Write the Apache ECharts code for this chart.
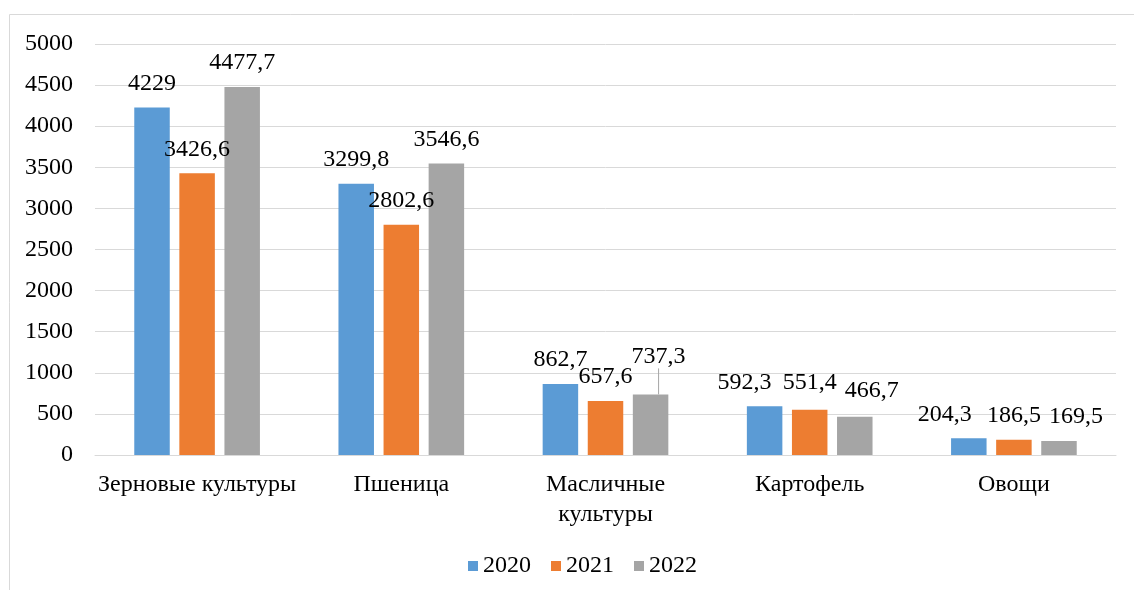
<!DOCTYPE html>
<html>
<head>
    <meta charset="utf-8">
    <title>Chart</title>
    <script src="https://cdn.jsdelivr.net/npm/echarts@6/dist/echarts.min.js"></script>
    <style>
        html, body { margin: 0; padding: 0; background: #fff; }
        #chart { width: 1134px; height: 590px; }
    </style>
</head>
<body>
<div id="chart"></div>
<script>
    // data
    var categories = ['Зерновые культуры', 'Пшеница', 'Масличные культуры', 'Картофель', 'Овощи'];
    var years = ['2020', '2021', '2022'];
    var v2020 = [4229, 3299.8, 862.7, 592.3, 204.3];
    var v2021 = [3426.6, 2802.6, 657.6, 551.4, 186.5];
    var v2022 = [4477.7, 3546.6, 737.3, 466.7, 169.5];
    var yTicks = [0, 500, 1000, 1500, 2000, 2500, 3000, 3500, 4000, 4500, 5000];

    var colors = ['#5B9BD5', '#ED7D31', '#A5A5A5'];
    var font = 'Times New Roman';
    var fs = 24;

    // labels that were moved by hand in the original
    var labelShift = {
        '0-3': [-20, 0], '0-4': [-24, 0],
        '1-3': [0, -3],
        '2-2': [8, -14], '2-3': [17, -2], '2-4': [17, 0]
    };

    function makeData(values, si) {
        return values.map(function (v, i) {
            var item = {value: v};
            if (si === 2 && i === 2) item.labelLine = {show: true};
            return item;
        });
    }

    var allSeries = [v2020, v2021, v2022].map(function (vals, si) {
        return {
            name: years[si],
            type: 'bar',
            data: makeData(vals, si),
            barWidth: 35.5,
            barGap: '27%',
            itemStyle: {color: colors[si]},
            label: {
                show: true,
                position: 'top',
                distance: 12,
                fontFamily: font,
                fontSize: fs,
                color: '#000',
                formatter: function (p) { return String(p.value).replace('.', ','); }
            },
            labelLine: {show: false, lineStyle: {color: '#A5A5A5', width: 1}},
            labelLayout: function (p) {
                var s = labelShift[si + '-' + p.dataIndex];
                return s ? {dx: s[0], dy: s[1]} : {};
            }
        };
    });

    var myChart = echarts.init(document.getElementById('chart'));
    myChart.setOption({
        animation: false,
        graphic: [{
            type: 'rect',
            shape: {x: 9.5, y: 14.5, width: 1300, height: 800},
            style: {fill: null, stroke: '#D9D9D9', lineWidth: 1},
            silent: true,
            z: -10
        }],
        grid: {left: 95, right: 18, top: 44, bottom: 135},
        legend: {
            data: years,
            top: 549,
            left: 463,
            icon: 'rect',
            itemWidth: 10,
            itemHeight: 10,
            itemGap: 20,
            textStyle: {fontFamily: font, fontSize: fs, color: '#000'}
        },
        xAxis: {
            type: 'category',
            data: categories,
            axisTick: {show: false},
            axisLine: {lineStyle: {color: '#D9D9D9', width: 1}},
            axisLabel: {
                fontFamily: font,
                fontSize: fs,
                color: '#000',
                margin: 15,
                lineHeight: 30,
                interval: 0,
                formatter: function (v) {
                    return v === 'Масличные культуры' ? 'Масличные\nкультуры' : v;
                }
            }
        },
        yAxis: {
            type: 'value',
            min: yTicks[0],
            max: yTicks[yTicks.length - 1],
            interval: 500,
            axisLine: {show: false},
            axisTick: {show: false},
            splitLine: {lineStyle: {color: '#D9D9D9', width: 1}},
            axisLabel: {
                fontFamily: font, fontSize: fs, color: '#000', margin: 22,
                formatter: function (v) { return String(v); }
            }
        },
        series: allSeries
    });
</script>
</body>
</html>
